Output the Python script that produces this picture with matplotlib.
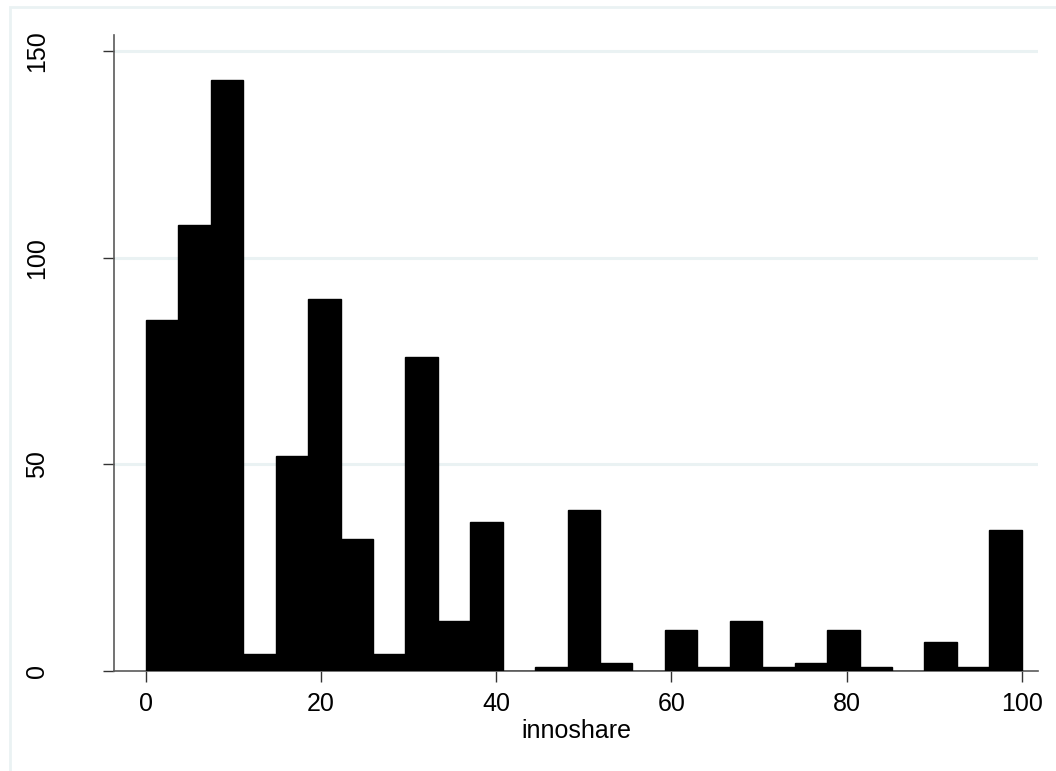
import matplotlib.pyplot as plt
import matplotlib.patches as mpatches
import numpy as np

plt.rcParams['font.family'] = ['Liberation Sans', 'DejaVu Sans']

# histogram of innoshare, 27 bins over 0..100
bin_lo = 0.0
bin_hi = 100.0
counts = [85, 108, 143, 4, 52, 90, 32, 4, 76, 12, 36, 0, 1, 39,
          2, 0, 10, 1, 12, 1, 2, 10, 1, 0, 7, 1, 34]
x_ticks = [0, 20, 40, 60, 80, 100]
y_ticks = [0, 50, 100, 150]
x_label = "innoshare"

edges = np.linspace(bin_lo, bin_hi, len(counts) + 1)
width = edges[1] - edges[0]

fig = plt.figure(figsize=(10.56, 7.71), dpi=100)
ax = fig.add_axes([114 / 1056, 1 - 671 / 771, (1038 - 114) / 1056, (671 - 35) / 771])

# light outer frame like stata graph region
frame = mpatches.Rectangle((10 / 1056, -0.05), 1.1, 1 - 7 / 771 + 0.05,
                           transform=fig.transFigure, fill=False,
                           edgecolor='#eaf2f3', linewidth=2, zorder=0)
fig.patches.append(frame)

ax.bar(edges[:-1], counts, width=width, align='edge', color='black',
       edgecolor='black', linewidth=1.0, zorder=3)

ax.set_xlim(-3.65, 101.86)
ax.set_ylim(0, 153.9)
ax.set_xticks(x_ticks)
ax.set_yticks(y_ticks)
ax.set_yticklabels([str(v) for v in y_ticks], rotation=90, va='center')

for v in y_ticks[1:]:
    ax.axhline(v, color='#eaf2f3', linewidth=2.2, zorder=1)

for s in ['top', 'right']:
    ax.spines[s].set_visible(False)
for s in ['left', 'bottom']:
    ax.spines[s].set_color('#5a5a5a')
    ax.spines[s].set_linewidth(1.2)

ax.tick_params(axis='both', direction='out', length=8, width=1, color='#333333',
               labelsize=18, labelcolor='black')
ax.tick_params(axis='y', pad=39)
ax.tick_params(axis='x', pad=7)

ax.set_xlabel(x_label, fontsize=18, labelpad=2)

fig.savefig('out.png', dpi=100)
